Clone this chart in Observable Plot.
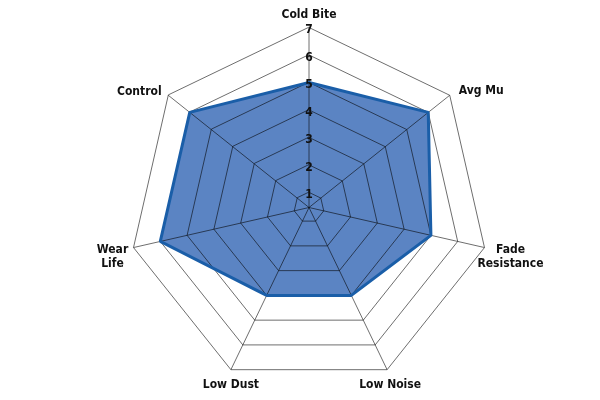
<!DOCTYPE html>
<html>
<head>
<meta charset="utf-8">
<script src="https://cdn.jsdelivr.net/npm/d3@7"></script>
<script src="https://cdn.jsdelivr.net/npm/@observablehq/plot@0.6"></script>
<style>
  html, body { margin: 0; padding: 0; background: #fff; }
  #chart { width: 600px; height: 400px; }
  #chart text { font-stretch: condensed; }
</style>
</head>
<body>
<div id="chart"></div>
<script>
// ---- data ----
const axes = ["Cold Bite", "Avg Mu", "Fade\nResistance", "Low Noise", "Low Dust", "Wear\nLife", "Control"];
const values = [5, 6, 5, 4, 4, 6, 6];
const ticks = [1, 2, 3, 4, 5, 6, 7];

// ---- geometry helpers ----
const rMin = 0.45, rMax = 7;
const n = axes.length;
const ang = i => 2 * Math.PI * i / n;
const px = (i, v) => (v - rMin) * Math.sin(ang(i));
const py = (i, v) => (v - rMin) * Math.cos(ang(i));

const W = 600, H = 400, cx = 308.5, cy = 207, R = 180;
const unit = R / (rMax - rMin);

const series = values.map((v, i) => ({i, v, x: px(i, v), y: py(i, v)}));
const rings = ticks.flatMap(k => axes.map((a, i) => ({k, x: px(i, k), y: py(i, k)})));
const spokes = axes.map((a, i) => ({x1: 0, y1: 0, x2: px(i, rMax), y2: py(i, rMax)}));
const tickData = ticks.map(k => ({k, x: 0, y: k - rMin}));

const font = "'DejaVu Sans Condensed', 'DejaVu Sans', sans-serif";
const labelStyle = [
  {dx: 0, dy: -14, anchor: "middle"},
  {dx: 9, dy: -6, anchor: "start"},
  {dx: 26, dy: 8, anchor: "middle"},
  {dx: 3, dy: 14, anchor: "middle"},
  {dx: 0, dy: 14, anchor: "middle"},
  {dx: -21, dy: 8, anchor: "middle"},
  {dx: -29, dy: -5, anchor: "middle"}
];
const labelMarks = axes.map((a, i) => Plot.text([{a, x: px(i, rMax), y: py(i, rMax)}], {
  x: "x", y: "y", text: "a",
  dx: labelStyle[i].dx, dy: labelStyle[i].dy, textAnchor: labelStyle[i].anchor,
  fontFamily: font, fontWeight: "bold", fontSize: 12, lineHeight: 1.2, fill: "#111"
}));

const chart = Plot.plot({
  width: W, height: H,
  margin: 0,
  x: {domain: [-cx / unit, (W - cx) / unit], axis: null},
  y: {domain: [-(H - cy) / unit, cy / unit], axis: null},
  marks: [
    Plot.line(series, {x: "x", y: "y", curve: "linear-closed", fill: "#5b84c3", stroke: "none"}),
    Plot.line(rings, {x: "x", y: "y", z: "k", curve: "linear-closed", stroke: "#6e6e6e", strokeWidth: 1, mixBlendMode: "multiply"}),
    Plot.link(spokes, {x1: "x1", y1: "y1", x2: "x2", y2: "y2", stroke: "#6e6e6e", strokeWidth: 1, mixBlendMode: "multiply"}),
    Plot.line(series, {x: "x", y: "y", curve: "linear-closed", stroke: "#1a5ea8", strokeWidth: 3, strokeLinejoin: "miter"}),
    Plot.text(tickData, {x: "x", y: "y", text: d => String(d.k), dy: 2, fontFamily: font, fontWeight: "bold", fontSize: 12, fill: "#111"}),
    ...labelMarks
  ]
});
document.getElementById("chart").appendChild(chart);
</script>
</body>
</html>
